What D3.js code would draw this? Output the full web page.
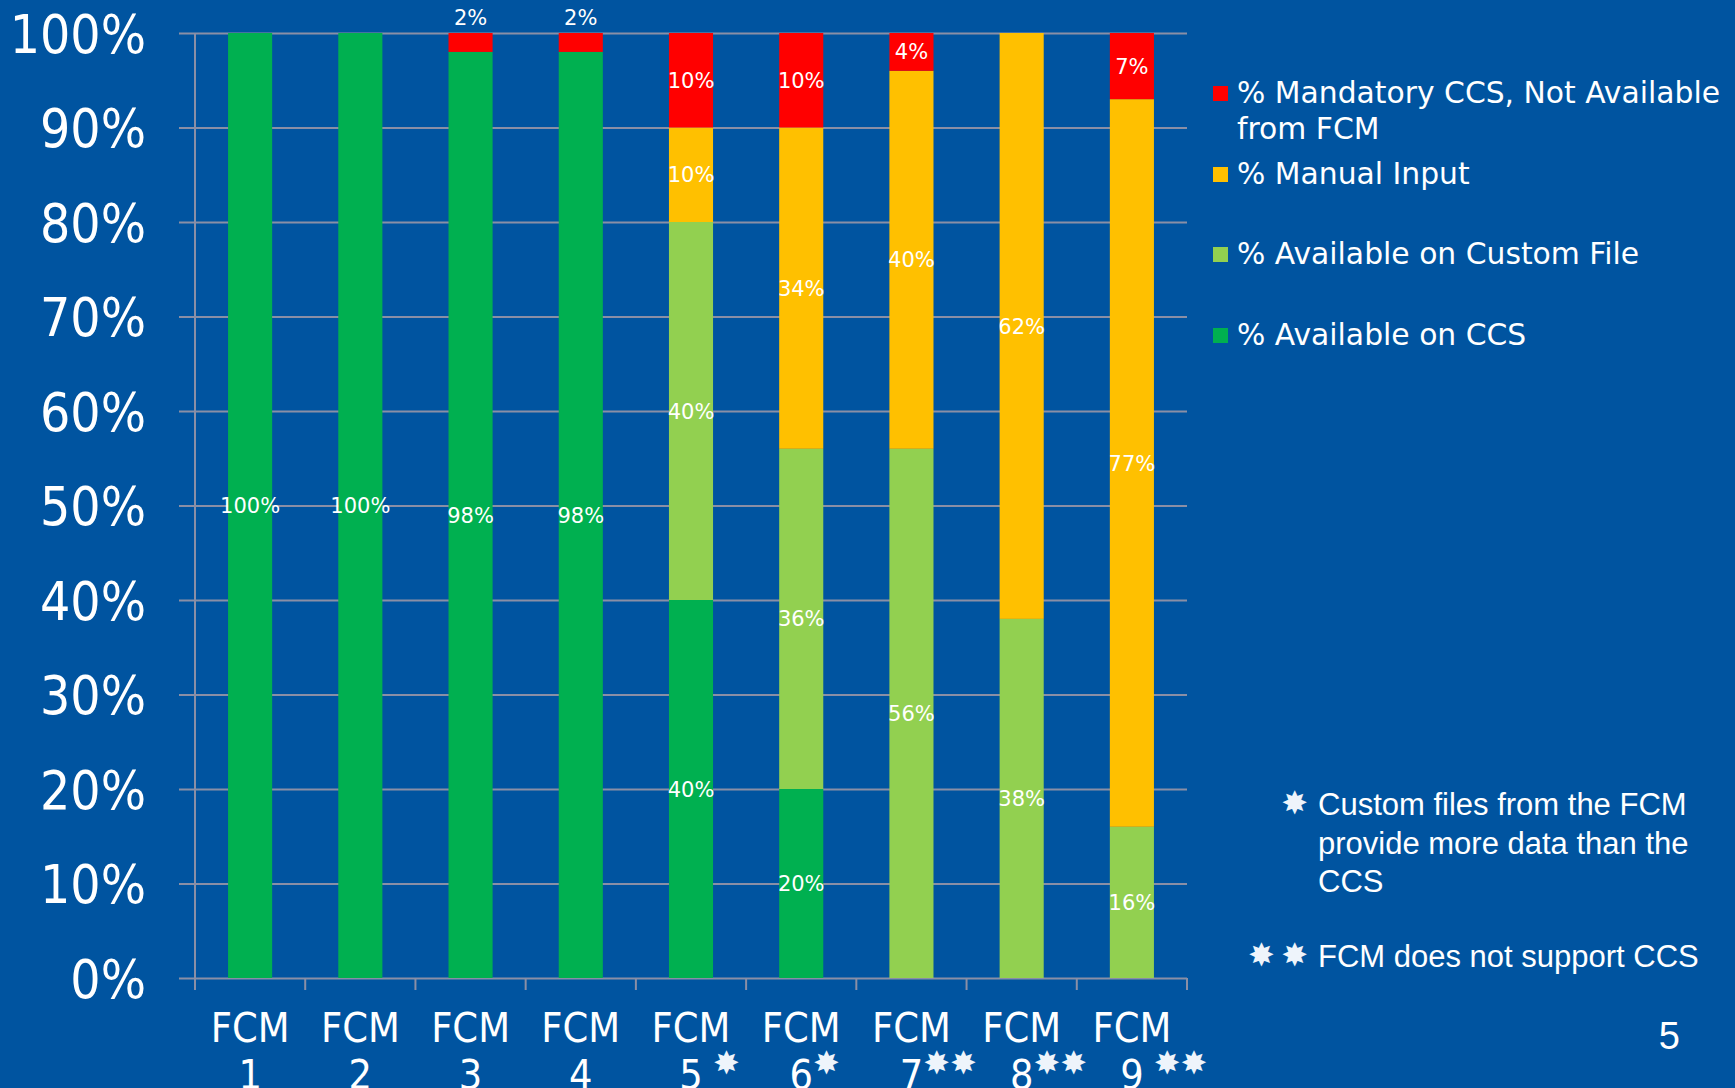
<!DOCTYPE html>
<meta charset="utf-8">
<script src="https://d3js.org/d3.v7.min.js"></script>
<title>FCM CCS coverage</title>
<style>
body { margin: 0; background: #0054a0; }
svg { display: block; }
.axis text { fill: #fff; }
.tick line { stroke: #8a8fa6; }
</style>
<body>
<svg id="chart" width="1735" height="1088"></svg>
<script>

// categories
var cats = ["FCM 1", "FCM 2", "FCM 3", "FCM 4", "FCM 5", "FCM 6", "FCM 7", "FCM 8", "FCM 9"];
var catNums = ["1", "2", "3", "4", "5", "6", "7", "8", "9"];
var catMarks = ["", "", "", "", " \u2738", "\u2738", "\u2738\u2738", "\u2738\u2738", " \u2738\u2738"];

// series values (percent)
var availCCS    = [100, 100, 98, 98, 40, 20, 0, 0, 0];
var availCustom = [0, 0, 0, 0, 40, 36, 56, 38, 16];
var manualInput = [0, 0, 0, 0, 10, 34, 40, 62, 77];
var mandatory   = [0, 0, 2, 2, 10, 10, 4, 0, 7];

var seriesColors = ["#00b050", "#92d050", "#ffc000", "#ff0000"];
var yTicks = [0, 10, 20, 30, 40, 50, 60, 70, 80, 90, 100];

var footnotes = [
  {mark: "\u2738", lines: ["Custom files from the FCM", "provide more data than the", "CCS"]},
  {mark: "\u2738\u2009\u2738", lines: ["FCM does not support CCS"]}
];

var svg = d3.select("#chart"),
    margin = {top: 33, left: 195},
    w = 992,
    h = 945;

svg.append("rect").attr("width", 1735).attr("height", 1088).attr("fill", "#0054a0");

var g = svg.append("g").attr("transform", "translate(" + margin.left + "," + margin.top + ")");

var x = d3.scaleBand().domain(cats).range([0, w]).paddingInner(0.6).paddingOuter(0.3);
var y = d3.scaleLinear().domain([0, 100]).range([h, 0]);

var rows = cats.map(function(c, i) {
  return {cat: c, ccs: availCCS[i], custom: availCustom[i], manual: manualInput[i], mand: mandatory[i]};
});
var keys = ["ccs", "custom", "manual", "mand"];
var stacked = d3.stack().keys(keys)(rows);

// gridlines + y labels
var yAxis = g.append("g").attr("class", "axis")
    .call(d3.axisLeft(y).tickValues(yTicks).tickSize(-w - 16).tickFormat(function(d) { return d + "%"; }))
    .attr("transform", "translate(-16,0)");
yAxis.select(".domain").remove();
yAxis.selectAll(".tick line").attr("stroke-width", 2).attr("x1", 0).attr("x2", w + 16);
yAxis.selectAll(".tick text")
    .attr("x", -33)
    .attr("dy", "0.36em")
    .style("font-family", "'DejaVu Sans Condensed', 'DejaVu Sans', Verdana, sans-serif")
    .style("font-stretch", "condensed")
    .style("font-size", "53px");

// bars
g.selectAll("g.series")
    .data(stacked)
  .enter().append("g")
    .attr("class", "series")
    .attr("fill", function(d, i) { return seriesColors[i]; })
  .selectAll("rect")
    .data(function(d) { return d; })
  .enter().append("rect")
    .attr("x", function(d) { return x(d.data.cat); })
    .attr("width", x.bandwidth())
    .attr("y", function(d) { return y(d[1]); })
    .attr("height", function(d) { return y(d[0]) - y(d[1]); });

// y axis line and bottom ticks
g.append("line").attr("x1", 0).attr("x2", 0).attr("y1", 0).attr("y2", h + 12)
    .attr("stroke", "#8a8fa6").attr("stroke-width", 2);
var step = x.step();
g.selectAll("line.xtick")
    .data(d3.range(cats.length + 1))
  .enter().append("line")
    .attr("class", "xtick")
    .attr("x1", function(d) { return d * step; })
    .attr("x2", function(d) { return d * step; })
    .attr("y1", h)
    .attr("y2", h + 12)
    .attr("stroke", "#8a8fa6").attr("stroke-width", 2);

// data labels
var labels = [];
stacked.forEach(function(s) {
  s.forEach(function(d) {
    var v = d[1] - d[0];
    if (v > 0) labels.push({cat: d.data.cat, v: v, mid: (d[0] + d[1]) / 2, top: d[1]});
  });
});
g.selectAll("text.dlabel")
    .data(labels)
  .enter().append("text")
    .attr("class", "dlabel")
    .attr("x", function(d) { return x(d.cat) + x.bandwidth() / 2; })
    .attr("y", function(d) { return d.v <= 2 ? y(d.top) - 16 : y(d.mid); })
    .attr("dy", "0.36em")
    .attr("text-anchor", "middle")
    .style("font-family", "'DejaVu Sans', Verdana, sans-serif")
    .style("font-size", "21px")
    .attr("fill", "#fff")
    .text(function(d) { return d.v + "%"; });

// x labels
var xl = g.selectAll("g.xlabel")
    .data(cats)
  .enter().append("g")
    .attr("class", "xlabel")
    .attr("transform", function(d) { return "translate(" + (x(d) + x.bandwidth() / 2) + ",0)"; });
xl.append("text")
    .attr("y", 1042 - margin.top)
    .attr("text-anchor", "middle")
    .style("font-family", "'DejaVu Sans Condensed', 'DejaVu Sans', Verdana, sans-serif")
    .style("font-stretch", "condensed")
    .style("font-size", "41px")
    .attr("fill", "#fff")
    .text("FCM");
xl.append("text")
    .attr("class", "num")
    .attr("y", 1089 - margin.top)
    .attr("text-anchor", "middle")
    .style("font-family", "'DejaVu Sans Condensed', 'DejaVu Sans', Verdana, sans-serif")
    .style("font-stretch", "condensed")
    .style("font-size", "41px")
    .attr("fill", "#fff")
    .text(function(d, i) { return catNums[i]; });
xl.each(function(d, i) {
  if (!catMarks[i]) return;
  var half = d3.select(this).select("text.num").node().getComputedTextLength() / 2;
  d3.select(this).append("text")
      .attr("x", half)
      .attr("y", 1074 - margin.top)
      .style("font-family", "'DejaVu Sans', sans-serif")
      .style("font-size", "32px")
      .style("white-space", "pre")
      .attr("xml:space", "preserve")
      .attr("fill", "#eef4fb")
      .text(catMarks[i]);
});

// legend (top entry is last series)
var legendItems = [
  {i: 3, lines: ["% Mandatory CCS, Not Available", "from FCM"], y: 103},
  {i: 2, lines: ["% Manual Input"], y: 184},
  {i: 1, lines: ["% Available on Custom File"], y: 264},
  {i: 0, lines: ["% Available on CCS"], y: 345}
];
var lg = svg.append("g").attr("class", "legend");
legendItems.forEach(function(it) {
  lg.append("rect")
      .attr("x", 1213).attr("y", it.y - 17)
      .attr("width", 15).attr("height", 15)
      .attr("fill", seriesColors[it.i]);
  var t = lg.append("text")
      .attr("x", 1237).attr("y", it.y)
      .style("font-family", "'DejaVu Sans', Verdana, sans-serif")
      .style("font-size", "29.8px")
      .attr("fill", "#fff");
  it.lines.forEach(function(l, k) {
    t.append("tspan").attr("x", 1237).attr("dy", k ? 36 : 0).text(l);
  });
});

// footnotes
var fn = svg.append("g").style("font-family", "'Liberation Sans', Arial, sans-serif").attr("fill", "#fff");
var fnY = [815, 967];
footnotes.forEach(function(f, k) {
  var t = fn.append("text").attr("x", 1320).attr("y", fnY[k]).style("font-size", "31px");
  f.lines.forEach(function(l, j) {
    t.append("tspan").attr("x", 1318).attr("dy", j ? 38.5 : 0).text(l);
  });
  fn.append("text")
      .attr("x", 1308).attr("y", fnY[k] - 1)
      .attr("text-anchor", "end")
      .style("font-family", "'DejaVu Sans', sans-serif")
      .style("font-size", "32px")
      .attr("fill", "#eef4fb")
      .text(f.mark);
});

// page number
svg.append("text")
    .attr("x", 1680).attr("y", 1049)
    .attr("text-anchor", "end")
    .style("font-family", "'Liberation Sans', Arial, sans-serif")
    .style("font-size", "38px")
    .attr("fill", "#fff")
    .text("5");

</script>
</body>
